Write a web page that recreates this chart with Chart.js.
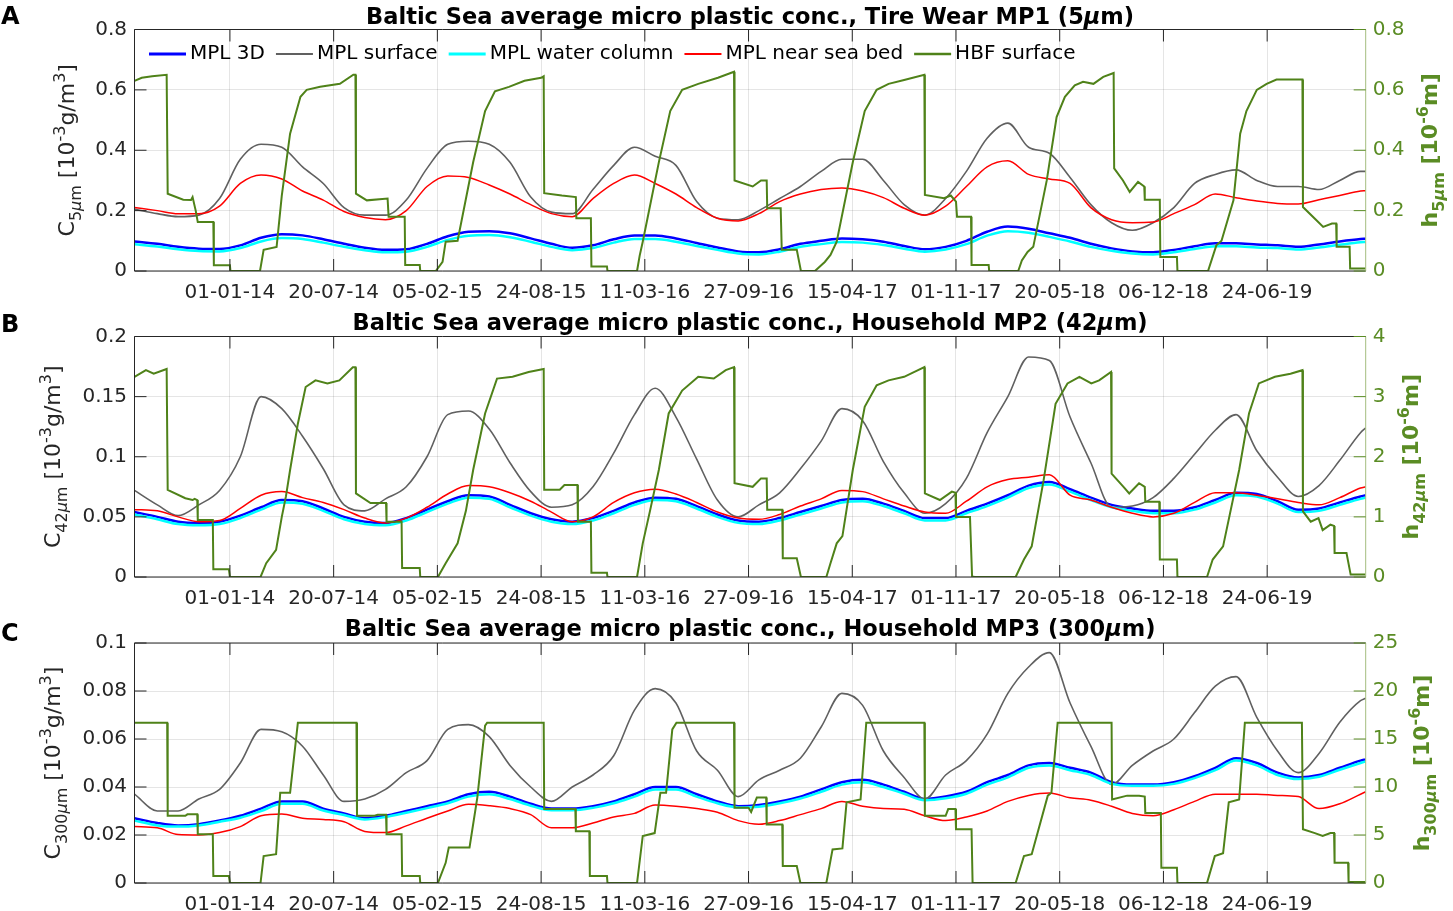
<!DOCTYPE html>
<html>
<head>
<meta charset="utf-8">
<script src="https://cdn.jsdelivr.net/npm/chart.js@4.4.0/dist/chart.umd.min.js"></script>
<style>
  html, body { margin: 0; padding: 0; background: #fff; width: 1453px; height: 911px; overflow: hidden; }
  .panel { position: absolute; left: 0; width: 1453px; height: 306px; }
  .letter { position: absolute; left: 1px; font: bold 24px "DejaVu Sans", sans-serif; line-height: 24px; color: #000; }
</style>
</head>
<body>
<div class="panel" style="top:0px"><canvas id="chartA"></canvas></div>
<div class="panel" style="top:306px"><canvas id="chartB"></canvas></div>
<div class="panel" style="top:612px"><canvas id="chartC"></canvas></div>
<div class="letter" style="top:4px">A</div>
<div class="letter" style="top:312px">B</div>
<div class="letter" style="top:621px">C</div>
<script>
// 1. DATA: days since 01-01-2014, one sample every ~40 days
const days = [-184,-140,-100,-60,-20,20,60,100,140,180,220,260,300,340,380,420,460,500,540,580,
  620,660,700,740,780,820,860,900,940,980,1020,1060,1100,1140,1180,1220,1260,1300,1340,1380,
  1420,1460,1500,1540,1580,1620,1660,1700,1740,1780,1820,1860,1900,1940,1980,2020,2060,2100,2140,2180,2190];
const tickDays = [0,200,400,600,800,1000,1200,1400,1600,1800,2000];

// Panel A - Tire Wear MP1 (5um)
const blueA = [0.098,0.09,0.08,0.074,0.073,0.085,0.11,0.122,0.118,0.105, 0.09,0.077,0.07,0.072,0.09,0.115,0.13,0.132,0.125,0.108,
  0.09,0.077,0.085,0.105,0.118,0.118,0.108,0.093,0.078,0.065, 0.062,0.072,0.09,0.1,0.108,0.105,0.097,0.083,0.072,0.08,
  0.1,0.13,0.147,0.14,0.125,0.11,0.09,0.075,0.065,0.062, 0.07,0.082,0.092,0.092,0.088,0.085,0.08,0.088,0.098,0.106,0.107];
const grayA = [0.205,0.19,0.18,0.185,0.24,0.37,0.42,0.41,0.345,0.29, 0.21,0.185,0.185,0.235,0.34,0.42,0.43,0.42,0.36,0.245,
  0.195,0.19,0.27,0.35,0.41,0.38,0.35,0.23,0.175,0.17, 0.2,0.24,0.28,0.33,0.37,0.37,0.3,0.22,0.185,0.24,
  0.33,0.44,0.49,0.41,0.39,0.31,0.22,0.16,0.135,0.16, 0.21,0.29,0.32,0.335,0.3,0.28,0.28,0.27,0.3,0.33,0.33];
const cyanA = [0.089,0.081,0.072,0.066,0.065,0.076,0.098,0.109,0.106,0.094, 0.08,0.069,0.062,0.064,0.08,0.103,0.117,0.119,0.112,0.097,
  0.08,0.069,0.076,0.094,0.106,0.106,0.097,0.083,0.07,0.058, 0.055,0.064,0.08,0.089,0.096,0.094,0.086,0.074,0.064,0.071,
  0.089,0.117,0.132,0.127,0.113,0.098,0.08,0.067,0.058,0.055, 0.062,0.073,0.082,0.082,0.078,0.076,0.071,0.078,0.087,0.095,0.096];
const redA = [0.21,0.2,0.19,0.19,0.215,0.29,0.318,0.305,0.265,0.235, 0.197,0.177,0.17,0.2,0.28,0.315,0.31,0.285,0.255,0.22,
  0.19,0.18,0.24,0.29,0.318,0.29,0.255,0.21,0.175,0.166, 0.19,0.23,0.255,0.27,0.275,0.265,0.243,0.208,0.185,0.215,
  0.28,0.345,0.365,0.32,0.305,0.29,0.21,0.17,0.16,0.162, 0.19,0.22,0.255,0.243,0.232,0.224,0.222,0.236,0.25,0.265,0.266];
const hbfA = [[-184,0.63],[-170,0.64],[-150,0.645],[-122,0.65],[-120,0.256],[-90,0.236],[-75,0.235],[-72,0.245],[-66,0.2],[-62,0.162],[-32,0.162],[-31,0.019],[0,0.019],[1,0],
  [58,0],[65,0.07],[90,0.08],[100,0.25],[116,0.455],[136,0.577],[148,0.6],[174,0.61],[212,0.62],[238,0.65],[242,0.65],[243,0.256],[264,0.234],[304,0.24],[306,0.18],[337,0.18],[338,0.02],[366,0.02],[367,0],
  [397,0],[410,0.03],[416,0.097],[439,0.1],[469,0.36],[492,0.53],[511,0.595],[538,0.61],[568,0.63],[600,0.64],[605,0.645],[606,0.258],[640,0.25],[667,0.245],[668,0.175],[696,0.175],[697,0.015],[727,0.015],[728,0],
  [785,0],[790,0.05],[796,0.097],[827,0.36],[849,0.53],[872,0.6],[903,0.62],[941,0.64],[972,0.66],[973,0.3],[1008,0.28],[1024,0.3],[1035,0.3],[1036,0.208],[1062,0.208],[1064,0.07],[1093,0.07],[1101,0],
  [1128,0],[1147,0.03],[1158,0.053],[1170,0.097],[1201,0.36],[1224,0.53],[1247,0.6],[1270,0.62],[1300,0.633],[1339,0.65],[1340,0.252],[1377,0.241],[1390,0.25],[1400,0.23],[1402,0.18],[1429,0.18],[1430,0.02],[1463,0.02],[1464,0],
  [1520,0],[1527,0.035],[1538,0.063],[1549,0.08],[1575,0.3],[1594,0.51],[1610,0.577],[1629,0.615],[1645,0.627],[1665,0.62],[1684,0.643],[1704,0.656],[1705,0.34],[1722,0.3],[1735,0.262],[1751,0.295],[1763,0.28],[1764,0.236],[1793,0.236],[1794,0.046],[1826,0.046],[1827,0],
  [1886,0],[1902,0.085],[1912,0.1],[1935,0.234],[1948,0.455],[1960,0.53],[1980,0.6],[1999,0.62],[2018,0.634],[2068,0.634],[2069,0.212],[2095,0.168],[2108,0.146],[2125,0.157],[2133,0.157],[2134,0.08],[2159,0.08],[2160,0.008],[2190,0.008]];

// Panel B - Household MP2 (42um)
const blueB = [0.054,0.05,0.046,0.045,0.046,0.051,0.058,0.064,0.063,0.057, 0.05,0.046,0.045,0.049,0.056,0.063,0.068,0.067,0.06,0.053,
  0.048,0.046,0.049,0.055,0.062,0.066,0.065,0.059,0.052,0.047, 0.046,0.049,0.054,0.059,0.064,0.065,0.061,0.055,0.049,0.049,
  0.055,0.061,0.068,0.076,0.079,0.073,0.066,0.06,0.057,0.055, 0.055,0.058,0.064,0.07,0.069,0.063,0.056,0.057,0.062,0.067,0.068];
const grayB = [0.072,0.06,0.051,0.06,0.072,0.1,0.15,0.14,0.117,0.09, 0.06,0.055,0.065,0.075,0.1,0.135,0.138,0.123,0.095,0.071,
  0.058,0.06,0.075,0.103,0.135,0.157,0.133,0.098,0.064,0.05, 0.06,0.07,0.09,0.113,0.14,0.13,0.096,0.07,0.053,0.061,
  0.082,0.12,0.15,0.183,0.18,0.133,0.095,0.058,0.059,0.066, 0.082,0.102,0.122,0.135,0.105,0.083,0.067,0.076,0.097,0.12,0.124];
const cyanB = [0.052,0.048,0.044,0.043,0.044,0.049,0.056,0.062,0.061,0.055, 0.048,0.044,0.043,0.047,0.054,0.061,0.066,0.065,0.058,0.051,
  0.046,0.044,0.047,0.053,0.06,0.064,0.063,0.057,0.05,0.045, 0.044,0.047,0.052,0.057,0.062,0.063,0.059,0.053,0.047,0.047,
  0.053,0.059,0.066,0.074,0.077,0.071,0.064,0.058,0.055,0.053, 0.053,0.056,0.062,0.068,0.067,0.061,0.054,0.055,0.06,0.065,0.066];
const redB = [0.056,0.055,0.05,0.046,0.047,0.057,0.068,0.071,0.066,0.062, 0.056,0.049,0.045,0.049,0.058,0.069,0.076,0.075,0.07,0.063,
  0.054,0.046,0.05,0.062,0.07,0.073,0.069,0.062,0.054,0.049, 0.048,0.052,0.059,0.065,0.072,0.071,0.065,0.059,0.054,0.053,
  0.063,0.075,0.081,0.083,0.085,0.068,0.064,0.058,0.053,0.05, 0.053,0.062,0.07,0.07,0.068,0.065,0.062,0.06,0.066,0.074,0.075];
const hbfB = [[-184,3.33],[-162,3.44],[-147,3.38],[-122,3.46],[-120,1.45],[-86,1.31],[-72,1.28],[-68,1.3],[-63,1.28],[-62,0.95],[-33,0.95],[-32,0.13],[-2,0.13],[0,0],
  [59,0],[70,0.23],[89,0.45],[100,1.0],[108,1.34],[116,1.78],[131,2.55],[146,3.16],[165,3.27],[188,3.22],[211,3.27],[237,3.49],[242,3.49],[243,1.39],[271,1.23],[301,1.23],[302,0.92],[331,0.92],[332,0.15],[366,0.15],[367,0],
  [401,0],[416,0.23],[439,0.56],[455,1.1],[469,1.78],[492,2.72],[515,3.3],[545,3.33],[576,3.41],[605,3.46],[606,1.45],[636,1.45],[645,1.53],[670,1.53],[671,0.92],[696,0.92],[697,0.07],[727,0.07],[728,0],
  [785,0],[796,0.56],[810,1.1],[827,1.78],[846,2.72],[872,3.1],[903,3.33],[933,3.3],[956,3.44],[972,3.49],[973,1.56],[1008,1.5],[1024,1.64],[1035,1.64],[1036,1.12],[1065,1.12],[1066,0.31],[1093,0.31],[1101,0],
  [1150,0],[1158,0.23],[1170,0.56],[1181,0.68],[1201,1.78],[1224,2.83],[1247,3.19],[1270,3.27],[1300,3.33],[1339,3.49],[1340,1.39],[1369,1.28],[1392,1.42],[1399,1.4],[1400,1.0],[1427,1.0],[1431,0.01],[1436,0],
  [1515,0],[1531,0.29],[1546,0.51],[1569,1.61],[1592,2.88],[1615,3.22],[1638,3.33],[1661,3.22],[1676,3.27],[1699,3.41],[1700,1.72],[1723,1.5],[1734,1.39],[1753,1.56],[1764,1.5],[1765,1.25],[1792,1.25],[1793,0.29],[1826,0.29],[1827,0],
  [1884,0],[1895,0.29],[1915,0.51],[1946,1.78],[1965,2.72],[1984,3.22],[2015,3.33],[2045,3.38],[2068,3.44],[2069,1.09],[2084,0.92],[2099,0.98],[2107,0.78],[2122,0.87],[2129,0.85],[2130,0.4],[2153,0.4],[2161,0.04],[2190,0.04]];

// Panel C - Household MP3 (300um)
const blueC = [0.027,0.025,0.024,0.0245,0.026,0.028,0.031,0.034,0.034,0.031, 0.029,0.027,0.028,0.03,0.032,0.034,0.037,0.038,0.036,0.033,
  0.031,0.031,0.032,0.034,0.037,0.04,0.04,0.037,0.034,0.032, 0.0325,0.034,0.036,0.039,0.042,0.043,0.041,0.038,0.035,0.036,
  0.038,0.042,0.045,0.049,0.05,0.048,0.046,0.042,0.041,0.041, 0.042,0.0445,0.048,0.052,0.05,0.046,0.044,0.045,0.048,0.051,0.0515];
const grayC = [0.037,0.03,0.03,0.035,0.039,0.05,0.064,0.063,0.057,0.045, 0.034,0.035,0.039,0.046,0.051,0.064,0.066,0.061,0.049,0.04,
  0.034,0.04,0.045,0.053,0.072,0.081,0.075,0.055,0.047,0.036, 0.043,0.047,0.052,0.065,0.079,0.074,0.055,0.044,0.035,0.045,
  0.051,0.062,0.079,0.09,0.096,0.075,0.057,0.041,0.049,0.055, 0.06,0.071,0.082,0.086,0.069,0.055,0.046,0.054,0.067,0.076,0.077];
const cyanC = [0.026,0.024,0.0235,0.024,0.0255,0.0272,0.03,0.033,0.033,0.0302, 0.0283,0.0265,0.0275,0.0293,0.0312,0.0332,0.036,0.037,0.035,0.0322,
  0.0303,0.0303,0.0313,0.0332,0.036,0.039,0.039,0.036,0.0332,0.0315, 0.0318,0.0332,0.0352,0.038,0.041,0.042,0.04,0.0372,0.0345,0.0353,
  0.0372,0.041,0.044,0.048,0.049,0.047,0.045,0.0413,0.0405,0.0405, 0.0413,0.0437,0.047,0.051,0.049,0.045,0.0433,0.0443,0.0472,0.05,0.0507];
const redC = [0.0235,0.023,0.0202,0.02,0.021,0.0235,0.028,0.0287,0.027,0.0265, 0.0255,0.0215,0.021,0.0238,0.027,0.03,0.0328,0.0322,0.031,0.0285,
  0.023,0.023,0.025,0.0275,0.029,0.0325,0.032,0.031,0.0295,0.026, 0.0245,0.026,0.0285,0.031,0.034,0.032,0.031,0.0307,0.028,0.026,
  0.0275,0.03,0.034,0.0365,0.0375,0.0355,0.0345,0.032,0.029,0.028, 0.0305,0.034,0.037,0.037,0.037,0.0365,0.036,0.031,0.033,0.037,0.038];
const hbfC = [[-184,16.7],[-121,16.7],[-120,7.0],[-86,7.0],[-82,7.15],[-63,7.15],[-62,5.07],[-33,5.07],[-32,0.73],[-2,0.73],[0,0],
  [59,0],[65,2.8],[89,3.0],[97,9.4],[116,9.4],[131,16.7],[244,16.7],[245,7.0],[279,7.0],[285,7.1],[301,7.1],[302,5.07],[331,5.07],[332,0.73],[366,0.73],[367,0],
  [401,0],[416,2.1],[422,3.7],[462,3.7],[477,8.9],[492,16.4],[496,16.7],[605,16.7],[606,7.7],[666,7.7],[667,5.4],[693,5.4],[694,0.73],[727,0.73],[728,0],
  [785,0],[796,4.9],[819,5.2],[830,9.4],[841,9.4],[853,16.0],[861,16.7],[972,16.7],[973,7.85],[1000,7.85],[1005,7.4],[1016,8.9],[1034,8.9],[1035,6.1],[1065,6.1],[1066,1.77],[1093,1.77],[1100,0],
  [1150,0],[1162,3.5],[1181,3.6],[1189,8.4],[1216,8.7],[1227,16.7],[1339,16.7],[1340,7.0],[1380,7.0],[1385,7.7],[1399,7.7],[1400,5.6],[1430,5.6],[1432,0],
  [1515,0],[1531,2.8],[1546,3.0],[1577,9.1],[1584,9.4],[1596,16.7],[1700,16.7],[1701,8.7],[1730,9.1],[1753,9.1],[1764,9.0],[1765,7.3],[1795,7.3],[1796,1.6],[1826,1.6],[1827,0],
  [1884,0],[1899,2.8],[1915,3.1],[1926,8.4],[1946,8.7],[1957,16.7],[2067,16.7],[2069,5.6],[2092,5.2],[2107,4.9],[2122,5.2],[2129,5.2],[2130,2.1],[2156,2.1],[2157,0.1],[2190,0.1]];

// 2. STYLE
const AXIS = '#262626';
const GREEN_LINE = '#4f8219';
const GREEN_TXT = '#5a8c24';
const FONT = '"DejaVu Sans", sans-serif';
Chart.defaults.font.family = FONT;
Chart.defaults.font.size = 20;
Chart.defaults.color = AXIS;

function fmtDate(d) {
  const t = new Date(Date.UTC(2014, 0, 1) + d * 86400000);
  const p = n => String(n).padStart(2, '0');
  return p(t.getUTCDate()) + '-' + p(t.getUTCMonth() + 1) + '-' + p(t.getUTCFullYear() % 100);
}
const fmtNum = v => String(parseFloat(Number(v).toFixed(4)));

// teks dengan subscript / superscript, bisa diputar
function drawRich(ctx, segs, cx, cy, rotate, color, size, bold) {
  const fontFor = s => (s.it ? 'italic ' : '') + (bold ? 'bold ' : '') +
    ((s.sub || s.sup) ? Math.round(size * 0.72) : size) + 'px ' + FONT;
  ctx.save();
  ctx.translate(cx, cy);
  if (rotate) ctx.rotate(-Math.PI / 2);
  let total = 0;
  const widths = segs.map(s => { ctx.font = fontFor(s); const w = ctx.measureText(s.t).width; total += w; return w; });
  let x = -total / 2;
  ctx.fillStyle = color;
  ctx.textAlign = 'left';
  ctx.textBaseline = 'alphabetic';
  segs.forEach((s, i) => {
    ctx.font = fontFor(s);
    const dy = s.sub ? size * 0.32 : (s.sup ? -size * 0.42 : 0);
    ctx.fillText(s.t, x, size * 0.36 + dy);
    x += widths[i];
  });
  ctx.restore();
}

const decor = {
  id: 'decor',
  afterDraw(chart, args, o) {
    const ctx = chart.ctx, a = chart.chartArea;
    const xs = chart.scales.x, ys = chart.scales.y, hs = chart.scales.y2;
    ctx.save();
    // frame
    ctx.lineWidth = 1;
    ctx.strokeStyle = AXIS;
    ctx.beginPath();
    ctx.moveTo(a.right, a.top); ctx.lineTo(a.left, a.top); ctx.lineTo(a.left, a.bottom); ctx.lineTo(a.right, a.bottom);
    ctx.stroke();
    ctx.strokeStyle = '#a4bd7e';
    ctx.beginPath(); ctx.moveTo(a.right, a.top); ctx.lineTo(a.right, a.bottom); ctx.stroke();
    // inward ticks
    ctx.strokeStyle = AXIS;
    ctx.beginPath();
    xs.ticks.forEach(t => {
      const px = xs.getPixelForValue(t.value);
      ctx.moveTo(px, a.bottom); ctx.lineTo(px, a.bottom - 12);
      ctx.moveTo(px, a.top); ctx.lineTo(px, a.top + 12);
    });
    ys.ticks.forEach(t => {
      const py = ys.getPixelForValue(t.value);
      ctx.moveTo(a.left, py); ctx.lineTo(a.left + 12, py);
    });
    ctx.stroke();
    ctx.strokeStyle = GREEN_TXT;
    ctx.beginPath();
    hs.ticks.forEach(t => {
      const py = hs.getPixelForValue(t.value);
      ctx.moveTo(a.right, py); ctx.lineTo(a.right - 12, py);
    });
    ctx.stroke();
    // title
    drawRich(ctx, o.title, (a.left + a.right) / 2, 16, false, '#000', 22.5, true);
    // axis labels
    const midY = (a.top + a.bottom) / 2;
    drawRich(ctx, o.leftLabel, o.leftX, midY, true, AXIS, 22, false);
    drawRich(ctx, o.rightLabel, o.rightX, midY, true, GREEN_TXT, 22, true);
    // legend (panel A only)
    if (o.legend) {
      let x = a.left + 14.5;
      const y = a.top + 24.5;
      ctx.font = '20px ' + FONT;
      ctx.textBaseline = 'middle';
      ctx.textAlign = 'left';
      chart.data.datasets.forEach(ds => {
        ctx.strokeStyle = ds.borderColor;
        ctx.lineWidth = ds.borderWidth + 0.5;
        ctx.beginPath(); ctx.moveTo(x, y); ctx.lineTo(x + 37, y); ctx.stroke();
        x += 41;
        ctx.fillStyle = '#000';
        ctx.fillText(ds.label, x, y);
        x += ctx.measureText(ds.label).width + 11;
      });
    }
    ctx.restore();
  }
};

// 3. PANELS
const panels = [
  { id: 'chartA', top: 29.5, yMax: 0.8, yStep: 0.2, hMax: 0.8, hStep: 0.2,
    blue: blueA, gray: grayA, cyan: cyanA, red: redA, hbf: hbfA,
    name: 'Tire Wear MP1', size: '5', legend: true, leftX: 66, rightX: 1429 },
  { id: 'chartB', top: 30.5, yMax: 0.2, yStep: 0.05, hMax: 4, hStep: 1,
    blue: blueB, gray: grayB, cyan: cyanB, red: redB, hbf: hbfB,
    name: 'Household MP2', size: '42', legend: false, leftX: 52, rightX: 1410 },
  { id: 'chartC', top: 31, yMax: 0.1, yStep: 0.02, hMax: 25, hStep: 5,
    blue: blueC, gray: grayC, cyan: cyanC, red: redC, hbf: hbfC,
    name: 'Household MP3', size: '300', legend: false, leftX: 52, rightX: 1421 }
];

function series(vals) { return days.map((d, i) => ({ x: d, y: vals[i] })); }

function makeChart(p) {
  const conc = (label, vals, color, w, order) => ({
    label: label, data: series(vals), yAxisID: 'y', borderColor: color, backgroundColor: color,
    borderWidth: w, pointRadius: 0, cubicInterpolationMode: 'monotone', order: order
  });
  const sub = [{ t: p.size, sub: true }, { t: 'μ', sub: true, it: true }, { t: 'm', sub: true }];
  new Chart(document.getElementById(p.id), {
    type: 'line',
    data: {
      datasets: [
        conc('MPL 3D', p.blue, '#0000ff', 2.5, 4),
        conc('MPL surface', p.gray, '#606060', 1.6, 3),
        conc('MPL water column', p.cyan, '#00ffff', 2.5, 2),
        conc('MPL near sea bed', p.red, '#ff0000', 1.5, 1),
        { label: 'HBF surface', data: p.hbf.map(q => ({ x: q[0], y: q[1] })), yAxisID: 'y2',
          borderColor: GREEN_LINE, backgroundColor: GREEN_LINE, borderWidth: 2, pointRadius: 0, tension: 0, order: 0 }
      ]
    },
    options: {
      responsive: true,
      maintainAspectRatio: false,
      animation: false,
      layout: { padding: { top: p.top, left: 0, right: 0, bottom: 0 } },
      plugins: {
        legend: { display: false },
        title: { display: false },
        tooltip: { enabled: false },
        decor: {
          title: [{ t: 'Baltic Sea average micro plastic conc., ' + p.name + ' (' + p.size }, { t: 'μ', it: true }, { t: 'm)' }],
          leftLabel: [{ t: 'C' }].concat(sub, [{ t: ' [10' }, { t: '-3', sup: true }, { t: 'g/m' }, { t: '3', sup: true }, { t: ']' }]),
          rightLabel: [{ t: 'h' }].concat(sub, [{ t: ' [10' }, { t: '-6', sup: true }, { t: 'm]' }]),
          leftX: p.leftX, rightX: p.rightX, legend: p.legend
        }
      },
      scales: {
        x: {
          type: 'linear', min: -184, max: 2190,
          afterFit: s => { s.height = 35; },
          afterBuildTicks: s => { s.ticks = tickDays.map(v => ({ value: v })); },
          ticks: { padding: 10, autoSkip: false, maxRotation: 0, color: AXIS, callback: v => fmtDate(v) },
          grid: { color: 'rgba(0,0,0,0.1)', drawTicks: false },
          border: { display: false }
        },
        y: {
          position: 'left', min: 0, max: p.yMax,
          afterFit: s => { s.width = 134.5; },
          ticks: { stepSize: p.yStep, padding: 7.5, color: AXIS, callback: fmtNum },
          grid: { color: 'rgba(0,0,0,0.1)', drawTicks: false },
          border: { display: false }
        },
        y2: {
          position: 'right', min: 0, max: p.hMax,
          afterFit: s => { s.width = 87.3; },
          ticks: { stepSize: p.hStep, padding: 7, color: GREEN_TXT, callback: fmtNum },
          grid: { drawOnChartArea: false, drawTicks: false },
          border: { display: false }
        }
      }
    },
    plugins: [decor]
  });
}

panels.forEach(makeChart);
</script>
</body>
</html>
